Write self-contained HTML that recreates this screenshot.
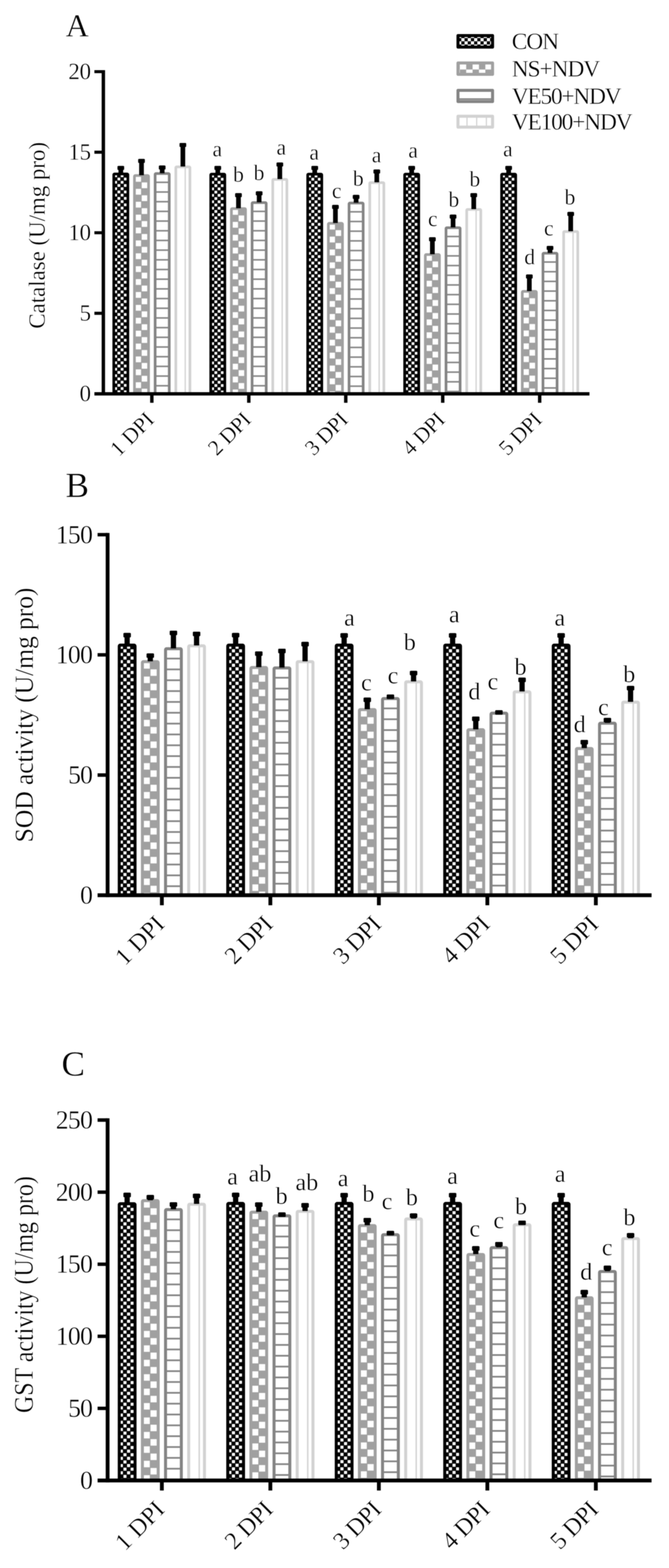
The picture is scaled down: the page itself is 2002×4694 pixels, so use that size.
<!DOCTYPE html>
<html lang="en"><head><meta charset="utf-8"><title>Antioxidant enzyme activity: Catalase, SOD and GST</title>
<style>html,body{margin:0;padding:0;background:#fff}body{width:2002px;height:4694px}svg{display:block;filter:blur(1.1px)}text{font-family:'Liberation Serif', serif;fill:#000;stroke:#fff;stroke-width:0.9px;paint-order:fill stroke}</style>
</head><body>
<svg width="2002" height="4694" viewBox="0 0 2002 4694">
<defs>
<pattern id="p1A" patternUnits="userSpaceOnUse" x="4.8" y="4.8" width="19.3" height="19.3"><rect width="19.3" height="19.3" fill="#000000"/><rect x="0.68" y="0.68" width="8.3" height="8.3" fill="#fff"/><rect x="10.33" y="10.33" width="8.3" height="8.3" fill="#fff"/></pattern>
<pattern id="p2A" patternUnits="userSpaceOnUse" x="5.4" y="4.3" width="38.6" height="38.6"><rect width="38.6" height="38.6" fill="#a0a0a0"/><rect x="0.96" y="0.96" width="17.37" height="17.37" fill="#fff"/><rect x="20.27" y="20.27" width="17.37" height="17.37" fill="#fff"/></pattern>
<pattern id="p3A" patternUnits="userSpaceOnUse" x="0" y="15.8" width="29" height="29"><rect width="29" height="29" fill="#fff"/><rect x="0" y="12.2" width="29" height="4.6" fill="#848484"/></pattern>
<pattern id="p4A" patternUnits="userSpaceOnUse" x="17.7" y="0" width="29" height="29"><rect width="29" height="29" fill="#fff"/><rect x="12.6" y="0" width="3.8" height="29" fill="#d2d2d2"/></pattern>
<pattern id="p1B" patternUnits="userSpaceOnUse" x="5.37" y="5.37" width="21.6" height="21.6"><rect width="21.6" height="21.6" fill="#000000"/><rect x="0.76" y="0.76" width="9.29" height="9.29" fill="#fff"/><rect x="11.55" y="11.55" width="9.29" height="9.29" fill="#fff"/></pattern>
<pattern id="p2B" patternUnits="userSpaceOnUse" x="6.04" y="4.81" width="43.19" height="43.19"><rect width="43.19" height="43.19" fill="#a0a0a0"/><rect x="1.08" y="1.08" width="19.44" height="19.44" fill="#fff"/><rect x="22.68" y="22.68" width="19.44" height="19.44" fill="#fff"/></pattern>
<pattern id="p3B" patternUnits="userSpaceOnUse" x="0" y="17.68" width="32.45" height="32.45"><rect width="32.45" height="32.45" fill="#fff"/><rect x="0" y="13.65" width="32.45" height="5.15" fill="#848484"/></pattern>
<pattern id="p4B" patternUnits="userSpaceOnUse" x="19.81" y="0" width="32.45" height="32.45"><rect width="32.45" height="32.45" fill="#fff"/><rect x="14.1" y="0" width="4.25" height="32.45" fill="#d2d2d2"/></pattern>
<pattern id="p1C" patternUnits="userSpaceOnUse" x="5.37" y="5.37" width="21.6" height="21.6"><rect width="21.6" height="21.6" fill="#000000"/><rect x="0.76" y="0.76" width="9.29" height="9.29" fill="#fff"/><rect x="11.55" y="11.55" width="9.29" height="9.29" fill="#fff"/></pattern>
<pattern id="p2C" patternUnits="userSpaceOnUse" x="6.04" y="4.81" width="43.19" height="43.19"><rect width="43.19" height="43.19" fill="#a0a0a0"/><rect x="1.08" y="1.08" width="19.44" height="19.44" fill="#fff"/><rect x="22.68" y="22.68" width="19.44" height="19.44" fill="#fff"/></pattern>
<pattern id="p3C" patternUnits="userSpaceOnUse" x="0" y="17.68" width="32.45" height="32.45"><rect width="32.45" height="32.45" fill="#fff"/><rect x="0" y="13.65" width="32.45" height="5.15" fill="#848484"/></pattern>
<pattern id="p4C" patternUnits="userSpaceOnUse" x="19.81" y="0" width="32.45" height="32.45"><rect width="32.45" height="32.45" fill="#fff"/><rect x="14.1" y="0" width="4.25" height="32.45" fill="#d2d2d2"/></pattern>
<pattern id="l1" patternUnits="userSpaceOnUse" x="5" y="2.5" width="19.1" height="19.1"><rect width="19.1" height="19.1" fill="#000000"/><rect width="9.55" height="9.55" fill="#fff"/><rect x="9.55" y="9.55" width="9.55" height="9.55" fill="#fff"/></pattern>
<pattern id="l2" patternUnits="userSpaceOnUse" x="10" y="5" width="38.2" height="38.2"><rect width="38.2" height="38.2" fill="#a0a0a0"/><rect width="19.1" height="19.1" fill="#fff"/><rect x="19.1" y="19.1" width="19.1" height="19.1" fill="#fff"/></pattern>
<pattern id="l3" patternUnits="userSpaceOnUse" x="0" y="16" width="29" height="29"><rect width="29" height="29" fill="#fff"/><rect y="12.2" width="29" height="4.6" fill="#848484"/></pattern>
<pattern id="l4" patternUnits="userSpaceOnUse" x="17" y="0" width="29" height="29"><rect width="29" height="29" fill="#fff"/><rect x="12.8" width="3.4" height="29" fill="#d2d2d2"/></pattern>
</defs>
<rect width="2002" height="4694" fill="#fff"/>
<g id="chartA">
<g stroke-width="8" stroke-linejoin="round">
<g transform="translate(336.45 516.7)"><rect x="4" y="4" width="42.2" height="658.3" rx="2.5" fill="url(#p1A)" stroke="#000000"/></g>
<g transform="translate(398.35 521.5)"><rect x="4" y="4" width="42.2" height="653.5" rx="2.5" fill="url(#p2A)" stroke="#a0a0a0"/></g>
<g transform="translate(460.25 515.5)"><rect x="4" y="4" width="42.2" height="659.5" rx="2.5" fill="url(#p3A)" stroke="#848484"/></g>
<g transform="translate(522.15 495.5)"><rect x="4" y="4" width="42.2" height="679.5" rx="2.5" fill="url(#p4A)" stroke="#d2d2d2"/></g>
<g transform="translate(626.6 517.2)"><rect x="4" y="4" width="42.2" height="657.8" rx="2.5" fill="url(#p1A)" stroke="#000000"/></g>
<g transform="translate(688.5 620.4)"><rect x="4" y="4" width="42.2" height="554.6" rx="2.5" fill="url(#p2A)" stroke="#a0a0a0"/></g>
<g transform="translate(750.4 602.5)"><rect x="4" y="4" width="42.2" height="572.5" rx="2.5" fill="url(#p3A)" stroke="#848484"/></g>
<g transform="translate(812.3 533)"><rect x="4" y="4" width="42.2" height="642" rx="2.5" fill="url(#p4A)" stroke="#d2d2d2"/></g>
<g transform="translate(916.75 517.2)"><rect x="4" y="4" width="42.2" height="657.8" rx="2.5" fill="url(#p1A)" stroke="#000000"/></g>
<g transform="translate(978.65 664.5)"><rect x="4" y="4" width="42.2" height="510.5" rx="2.5" fill="url(#p2A)" stroke="#a0a0a0"/></g>
<g transform="translate(1040.55 603.8)"><rect x="4" y="4" width="42.2" height="571.2" rx="2.5" fill="url(#p3A)" stroke="#848484"/></g>
<g transform="translate(1102.45 542.7)"><rect x="4" y="4" width="42.2" height="632.3" rx="2.5" fill="url(#p4A)" stroke="#d2d2d2"/></g>
<g transform="translate(1206.9 517.2)"><rect x="4" y="4" width="42.2" height="657.8" rx="2.5" fill="url(#p1A)" stroke="#000000"/></g>
<g transform="translate(1268.8 758)"><rect x="4" y="4" width="42.2" height="417" rx="2.5" fill="url(#p2A)" stroke="#a0a0a0"/></g>
<g transform="translate(1330.7 677.7)"><rect x="4" y="4" width="42.2" height="497.3" rx="2.5" fill="url(#p3A)" stroke="#848484"/></g>
<g transform="translate(1392.6 623)"><rect x="4" y="4" width="42.2" height="552" rx="2.5" fill="url(#p4A)" stroke="#d2d2d2"/></g>
<g transform="translate(1497.05 517.2)"><rect x="4" y="4" width="42.2" height="657.8" rx="2.5" fill="url(#p1A)" stroke="#000000"/></g>
<g transform="translate(1558.95 868.3)"><rect x="4" y="4" width="42.2" height="306.7" rx="2.5" fill="url(#p2A)" stroke="#a0a0a0"/></g>
<g transform="translate(1620.85 754.1)"><rect x="4" y="4" width="42.2" height="420.9" rx="2.5" fill="url(#p3A)" stroke="#848484"/></g>
<g transform="translate(1682.75 689.2)"><rect x="4" y="4" width="42.2" height="485.8" rx="2.5" fill="url(#p4A)" stroke="#d2d2d2"/></g>
</g>
<g fill="#000">
<rect x="354.55" y="496.8" width="14" height="22.9"/><rect x="351.55" y="496.8" width="20" height="12" rx="2.5"/>
<rect x="416.45" y="475.8" width="14" height="48.7"/><rect x="413.45" y="475.8" width="20" height="12" rx="2.5"/>
<rect x="478.35" y="495.5" width="14" height="23"/><rect x="475.35" y="495.5" width="20" height="12" rx="2.5"/>
<rect x="540.25" y="428" width="14" height="70.5"/><rect x="537.25" y="428" width="20" height="12" rx="2.5"/>
<rect x="644.7" y="496.8" width="14" height="23.4"/><rect x="641.7" y="496.8" width="20" height="12" rx="2.5"/>
<rect x="706.6" y="578.3" width="14" height="45.1"/><rect x="703.6" y="578.3" width="20" height="12" rx="2.5"/>
<rect x="768.5" y="572.7" width="14" height="32.8"/><rect x="765.5" y="572.7" width="20" height="12" rx="2.5"/>
<rect x="830.4" y="486.6" width="14" height="49.4"/><rect x="827.4" y="486.6" width="20" height="12" rx="2.5"/>
<rect x="934.85" y="496.8" width="14" height="23.4"/><rect x="931.85" y="496.8" width="20" height="12" rx="2.5"/>
<rect x="996.75" y="613.5" width="14" height="54"/><rect x="993.75" y="613.5" width="20" height="12" rx="2.5"/>
<rect x="1058.65" y="583.4" width="14" height="23.4"/><rect x="1055.65" y="583.4" width="20" height="12" rx="2.5"/>
<rect x="1120.55" y="507.5" width="14" height="38.2"/><rect x="1117.55" y="507.5" width="20" height="12" rx="2.5"/>
<rect x="1225" y="496.8" width="14" height="23.4"/><rect x="1222" y="496.8" width="20" height="12" rx="2.5"/>
<rect x="1286.9" y="710.3" width="14" height="50.7"/><rect x="1283.9" y="710.3" width="20" height="12" rx="2.5"/>
<rect x="1348.8" y="642.5" width="14" height="38.2"/><rect x="1345.8" y="642.5" width="20" height="12" rx="2.5"/>
<rect x="1410.7" y="578.3" width="14" height="47.7"/><rect x="1407.7" y="578.3" width="20" height="12" rx="2.5"/>
<rect x="1515.15" y="496.8" width="14" height="23.4"/><rect x="1512.15" y="496.8" width="20" height="12" rx="2.5"/>
<rect x="1577.05" y="821.7" width="14" height="49.6"/><rect x="1574.05" y="821.7" width="20" height="12" rx="2.5"/>
<rect x="1638.95" y="736.3" width="14" height="20.8"/><rect x="1635.95" y="736.3" width="20" height="12" rx="2.5"/>
<rect x="1700.85" y="634.4" width="14" height="57.8"/><rect x="1697.85" y="634.4" width="20" height="12" rx="2.5"/>
</g>
<g stroke="#000" stroke-width="10.2" fill="none">
<path d="M309.3 209.9V1184.1"/>
<path d="M282.5 1179H1764"/>
<path stroke-width="9.2" d="M282.5 937.88H309.3M282.5 696.75H309.3M282.5 455.62H309.3M282.5 214.5H309.3"/>
<path d="M454.4 1179V1205.8M744.55 1179V1205.8M1034.7 1179V1205.8M1324.85 1179V1205.8M1615 1179V1205.8"/>
</g>
<g font-size="69" text-anchor="end">
<text x="272.5" y="1201.2" textLength="34">0</text>
<text x="272.5" y="960.08" textLength="34">5</text>
<text x="272.5" y="718.95" textLength="68">10</text>
<text x="272.5" y="477.82" textLength="68">15</text>
<text x="272.5" y="236.7" textLength="68">20</text>
</g>
<g font-size="65.5" text-anchor="end">
<text transform="translate(465 1260) rotate(-45)" textLength="155">1 DPI</text>
<text transform="translate(755.15 1260) rotate(-45)" textLength="151">2 DPI</text>
<text transform="translate(1045.3 1260) rotate(-45)" textLength="151">3 DPI</text>
<text transform="translate(1335.45 1260) rotate(-45)" textLength="151">4 DPI</text>
<text transform="translate(1625.6 1260) rotate(-45)" textLength="151">5 DPI</text>
</g>
<text font-size="69" text-anchor="middle" transform="translate(134 704.5) rotate(-90)" textLength="559" lengthAdjust="spacing">Catalase (U/mg pro)</text>
<text font-size="96" x="196.5" y="108.7">A</text>
<g font-size="64.5" text-anchor="middle">
<text x="650.2" y="467.7">a</text>
<text x="713.7" y="544.2">b</text>
<text x="775" y="539.1">b</text>
<text x="841.8" y="462.6">a</text>
<text x="940.4" y="477.9">a</text>
<text x="1007.5" y="592.6">c</text>
<text x="1072" y="555.6">b</text>
<text x="1126.7" y="485.6">a</text>
<text x="1236.2" y="471.5">a</text>
<text x="1295.1" y="676.6">c</text>
<text x="1358" y="619.2">b</text>
<text x="1420.8" y="558.2">b</text>
<text x="1519.8" y="467.7">a</text>
<text x="1585.2" y="791.3">d</text>
<text x="1642.4" y="704.7">c</text>
<text x="1705.7" y="611.7">b</text>
</g>
</g>
<g id="chartB">
<g stroke-width="8.95" stroke-linejoin="round">
<g transform="translate(352.38 1926.8)"><rect x="4.48" y="4.48" width="47.22" height="748.72" rx="2.8" fill="url(#p1B)" stroke="#000000"/></g>
<g transform="translate(421.65 1976.3)"><rect x="4.48" y="4.48" width="47.22" height="699.22" rx="2.8" fill="url(#p2B)" stroke="#a0a0a0"/></g>
<g transform="translate(490.91 1937.6)"><rect x="4.48" y="4.48" width="47.22" height="737.92" rx="2.8" fill="url(#p3B)" stroke="#848484"/></g>
<g transform="translate(560.18 1928.8)"><rect x="4.48" y="4.48" width="47.22" height="746.72" rx="2.8" fill="url(#p4B)" stroke="#d2d2d2"/></g>
<g transform="translate(677.06 1926.8)"><rect x="4.48" y="4.48" width="47.22" height="748.72" rx="2.8" fill="url(#p1B)" stroke="#000000"/></g>
<g transform="translate(746.32 1993.8)"><rect x="4.48" y="4.48" width="47.22" height="681.72" rx="2.8" fill="url(#p2B)" stroke="#a0a0a0"/></g>
<g transform="translate(815.59 1995)"><rect x="4.48" y="4.48" width="47.22" height="680.52" rx="2.8" fill="url(#p3B)" stroke="#848484"/></g>
<g transform="translate(884.86 1976.3)"><rect x="4.48" y="4.48" width="47.22" height="699.22" rx="2.8" fill="url(#p4B)" stroke="#d2d2d2"/></g>
<g transform="translate(1001.74 1926.7)"><rect x="4.48" y="4.48" width="47.22" height="748.82" rx="2.8" fill="url(#p1B)" stroke="#000000"/></g>
<g transform="translate(1071 2119.7)"><rect x="4.48" y="4.48" width="47.22" height="555.82" rx="2.8" fill="url(#p2B)" stroke="#a0a0a0"/></g>
<g transform="translate(1140.27 2086.8)"><rect x="4.48" y="4.48" width="47.22" height="588.72" rx="2.8" fill="url(#p3B)" stroke="#848484"/></g>
<g transform="translate(1209.53 2036.5)"><rect x="4.48" y="4.48" width="47.22" height="639.02" rx="2.8" fill="url(#p4B)" stroke="#d2d2d2"/></g>
<g transform="translate(1326.41 1926.7)"><rect x="4.48" y="4.48" width="47.22" height="748.82" rx="2.8" fill="url(#p1B)" stroke="#000000"/></g>
<g transform="translate(1395.68 2180)"><rect x="4.48" y="4.48" width="47.22" height="495.52" rx="2.8" fill="url(#p2B)" stroke="#a0a0a0"/></g>
<g transform="translate(1464.95 2130.5)"><rect x="4.48" y="4.48" width="47.22" height="545.02" rx="2.8" fill="url(#p3B)" stroke="#848484"/></g>
<g transform="translate(1534.21 2066.5)"><rect x="4.48" y="4.48" width="47.22" height="609.02" rx="2.8" fill="url(#p4B)" stroke="#d2d2d2"/></g>
<g transform="translate(1651.09 1926.7)"><rect x="4.48" y="4.48" width="47.22" height="748.82" rx="2.8" fill="url(#p1B)" stroke="#000000"/></g>
<g transform="translate(1720.36 2236.2)"><rect x="4.48" y="4.48" width="47.22" height="439.32" rx="2.8" fill="url(#p2B)" stroke="#a0a0a0"/></g>
<g transform="translate(1789.62 2160.5)"><rect x="4.48" y="4.48" width="47.22" height="515.02" rx="2.8" fill="url(#p3B)" stroke="#848484"/></g>
<g transform="translate(1858.89 2097.6)"><rect x="4.48" y="4.48" width="47.22" height="577.92" rx="2.8" fill="url(#p4B)" stroke="#d2d2d2"/></g>
</g>
<g fill="#000">
<rect x="372.63" y="1894.7" width="15.67" height="35.46"/><rect x="369.28" y="1894.7" width="22.38" height="13.43" rx="2.8"/>
<rect x="441.9" y="1955.9" width="15.67" height="23.76"/><rect x="438.54" y="1955.9" width="22.38" height="13.43" rx="2.8"/>
<rect x="511.17" y="1888" width="15.67" height="52.96"/><rect x="507.81" y="1888" width="22.38" height="13.43" rx="2.8"/>
<rect x="580.43" y="1891" width="15.67" height="41.16"/><rect x="577.08" y="1891" width="22.38" height="13.43" rx="2.8"/>
<rect x="697.31" y="1894.7" width="15.67" height="35.46"/><rect x="693.96" y="1894.7" width="22.38" height="13.43" rx="2.8"/>
<rect x="766.58" y="1950" width="15.67" height="47.16"/><rect x="763.22" y="1950" width="22.38" height="13.43" rx="2.8"/>
<rect x="835.84" y="1942" width="15.67" height="56.36"/><rect x="832.49" y="1942" width="22.38" height="13.43" rx="2.8"/>
<rect x="905.11" y="1921.5" width="15.67" height="58.16"/><rect x="901.75" y="1921.5" width="22.38" height="13.43" rx="2.8"/>
<rect x="1021.99" y="1895.5" width="15.67" height="34.56"/><rect x="1018.63" y="1895.5" width="22.38" height="13.43" rx="2.8"/>
<rect x="1091.26" y="2088.3" width="15.67" height="34.76"/><rect x="1087.9" y="2088.3" width="22.38" height="13.43" rx="2.8"/>
<rect x="1160.52" y="2079" width="15.67" height="11.16"/><rect x="1157.17" y="2079" width="22.38" height="13.43" rx="2.8"/>
<rect x="1229.79" y="2008.2" width="15.67" height="31.66"/><rect x="1226.43" y="2008.2" width="22.38" height="13.43" rx="2.8"/>
<rect x="1346.67" y="1895.5" width="15.67" height="34.56"/><rect x="1343.31" y="1895.5" width="22.38" height="13.43" rx="2.8"/>
<rect x="1415.93" y="2145" width="15.67" height="38.36"/><rect x="1412.58" y="2145" width="22.38" height="13.43" rx="2.8"/>
<rect x="1485.2" y="2126" width="15.67" height="7.86"/><rect x="1481.84" y="2126" width="22.38" height="13.43" rx="2.8"/>
<rect x="1554.47" y="2028.6" width="15.67" height="41.26"/><rect x="1551.11" y="2028.6" width="22.38" height="13.43" rx="2.8"/>
<rect x="1671.35" y="1895.5" width="15.67" height="34.56"/><rect x="1667.99" y="1895.5" width="22.38" height="13.43" rx="2.8"/>
<rect x="1740.61" y="2215" width="15.67" height="24.56"/><rect x="1737.26" y="2215" width="22.38" height="13.43" rx="2.8"/>
<rect x="1809.88" y="2148.9" width="15.67" height="14.96"/><rect x="1806.52" y="2148.9" width="22.38" height="13.43" rx="2.8"/>
<rect x="1879.14" y="2053.3" width="15.67" height="47.66"/><rect x="1875.79" y="2053.3" width="22.38" height="13.43" rx="2.8"/>
</g>
<g stroke="#000" stroke-width="11.41" fill="none">
<path d="M322 1595.55V2685.71"/>
<path d="M292.01 2680H1949.81"/>
<path stroke-width="10.29" d="M292.01 2320.23H322M292.01 1960.47H322M292.01 1600.7H322"/>
<path d="M484.37 2680V2709.99M809.04 2680V2709.99M1133.72 2680V2709.99M1458.4 2680V2709.99M1783.08 2680V2709.99"/>
</g>
<g font-size="77.21" text-anchor="end">
<text x="278" y="2704.84" textLength="37.09">0</text>
<text x="278" y="2345.08" textLength="74.19">50</text>
<text x="278" y="1985.31" textLength="111.28">100</text>
<text x="278" y="1625.54" textLength="111.28">150</text>
</g>
<g font-size="73.29" text-anchor="end">
<text transform="translate(496.23 2770.64) rotate(-45)" textLength="173.44">1 DPI</text>
<text transform="translate(820.91 2770.64) rotate(-45)" textLength="168.97">2 DPI</text>
<text transform="translate(1145.58 2770.64) rotate(-45)" textLength="168.97">3 DPI</text>
<text transform="translate(1470.26 2770.64) rotate(-45)" textLength="168.97">4 DPI</text>
<text transform="translate(1794.94 2770.64) rotate(-45)" textLength="168.97">5 DPI</text>
</g>
<text font-size="77.21" text-anchor="middle" transform="translate(98 2140.5) rotate(-90)" textLength="763" lengthAdjust="spacing">SOD activity (U/mg pro)</text>
<text font-size="105.5" x="196" y="1487.7">B</text>
<g font-size="72.18" text-anchor="middle">
<text x="1045.7" y="1873.02">a</text>
<text x="1096.6" y="2066.72">c</text>
<text x="1176" y="2046.22">c</text>
<text x="1226.2" y="1945.82">b</text>
<text x="1359.4" y="1862.82">a</text>
<text x="1419.6" y="2094.22">d</text>
<text x="1475" y="2063.72">c</text>
<text x="1557.9" y="2020.12">b</text>
<text x="1675.3" y="1873.02">a</text>
<text x="1734.7" y="2191.92">d</text>
<text x="1805.7" y="2140.92">c</text>
<text x="1883" y="2041.92">b</text>
</g>
</g>
<g id="chartC">
<g stroke-width="8.95" stroke-linejoin="round">
<g transform="translate(352.38 3599)"><rect x="4.48" y="4.48" width="47.22" height="828.52" rx="2.8" fill="url(#p1C)" stroke="#000000"/></g>
<g transform="translate(421.65 3589.7)"><rect x="4.48" y="4.48" width="47.22" height="837.82" rx="2.8" fill="url(#p2C)" stroke="#a0a0a0"/></g>
<g transform="translate(490.91 3616.5)"><rect x="4.48" y="4.48" width="47.22" height="811.02" rx="2.8" fill="url(#p3C)" stroke="#848484"/></g>
<g transform="translate(560.18 3600.5)"><rect x="4.48" y="4.48" width="47.22" height="827.02" rx="2.8" fill="url(#p4C)" stroke="#d2d2d2"/></g>
<g transform="translate(677.06 3598)"><rect x="4.48" y="4.48" width="47.22" height="829.52" rx="2.8" fill="url(#p1C)" stroke="#000000"/></g>
<g transform="translate(746.32 3624.2)"><rect x="4.48" y="4.48" width="47.22" height="803.32" rx="2.8" fill="url(#p2C)" stroke="#a0a0a0"/></g>
<g transform="translate(815.59 3635.3)"><rect x="4.48" y="4.48" width="47.22" height="792.22" rx="2.8" fill="url(#p3C)" stroke="#848484"/></g>
<g transform="translate(884.86 3621.9)"><rect x="4.48" y="4.48" width="47.22" height="805.62" rx="2.8" fill="url(#p4C)" stroke="#d2d2d2"/></g>
<g transform="translate(1001.74 3598)"><rect x="4.48" y="4.48" width="47.22" height="829.52" rx="2.8" fill="url(#p1C)" stroke="#000000"/></g>
<g transform="translate(1071 3664.4)"><rect x="4.48" y="4.48" width="47.22" height="763.12" rx="2.8" fill="url(#p2C)" stroke="#a0a0a0"/></g>
<g transform="translate(1140.27 3691.8)"><rect x="4.48" y="4.48" width="47.22" height="735.72" rx="2.8" fill="url(#p3C)" stroke="#848484"/></g>
<g transform="translate(1209.53 3644.6)"><rect x="4.48" y="4.48" width="47.22" height="782.92" rx="2.8" fill="url(#p4C)" stroke="#d2d2d2"/></g>
<g transform="translate(1326.41 3598)"><rect x="4.48" y="4.48" width="47.22" height="829.52" rx="2.8" fill="url(#p1C)" stroke="#000000"/></g>
<g transform="translate(1395.68 3750.9)"><rect x="4.48" y="4.48" width="47.22" height="676.62" rx="2.8" fill="url(#p2C)" stroke="#a0a0a0"/></g>
<g transform="translate(1464.95 3730.5)"><rect x="4.48" y="4.48" width="47.22" height="697.02" rx="2.8" fill="url(#p3C)" stroke="#848484"/></g>
<g transform="translate(1534.21 3662.1)"><rect x="4.48" y="4.48" width="47.22" height="765.42" rx="2.8" fill="url(#p4C)" stroke="#d2d2d2"/></g>
<g transform="translate(1651.09 3598)"><rect x="4.48" y="4.48" width="47.22" height="829.52" rx="2.8" fill="url(#p1C)" stroke="#000000"/></g>
<g transform="translate(1720.36 3880.5)"><rect x="4.48" y="4.48" width="47.22" height="547.02" rx="2.8" fill="url(#p2C)" stroke="#a0a0a0"/></g>
<g transform="translate(1789.62 3801.9)"><rect x="4.48" y="4.48" width="47.22" height="625.62" rx="2.8" fill="url(#p3C)" stroke="#848484"/></g>
<g transform="translate(1858.89 3703.4)"><rect x="4.48" y="4.48" width="47.22" height="724.12" rx="2.8" fill="url(#p4C)" stroke="#d2d2d2"/></g>
</g>
<g fill="#000">
<rect x="372.63" y="3570.5" width="15.67" height="31.86"/><rect x="369.28" y="3570.5" width="22.38" height="13.43" rx="2.8"/>
<rect x="441.9" y="3577.2" width="15.67" height="15.86"/><rect x="438.54" y="3577.2" width="22.38" height="13.43" rx="2.8"/>
<rect x="511.17" y="3599" width="15.67" height="20.86"/><rect x="507.81" y="3599" width="22.38" height="13.43" rx="2.8"/>
<rect x="580.43" y="3573.4" width="15.67" height="30.46"/><rect x="577.08" y="3573.4" width="22.38" height="13.43" rx="2.8"/>
<rect x="697.31" y="3570.4" width="15.67" height="30.96"/><rect x="693.96" y="3570.4" width="22.38" height="13.43" rx="2.8"/>
<rect x="766.58" y="3599.5" width="15.67" height="28.06"/><rect x="763.22" y="3599.5" width="22.38" height="13.43" rx="2.8"/>
<rect x="835.84" y="3629.5" width="15.67" height="9.16"/><rect x="832.49" y="3629.5" width="22.38" height="13.43" rx="2.8"/>
<rect x="905.11" y="3601.5" width="15.67" height="23.76"/><rect x="901.75" y="3601.5" width="22.38" height="13.43" rx="2.8"/>
<rect x="1021.99" y="3571.2" width="15.67" height="30.16"/><rect x="1018.63" y="3571.2" width="22.38" height="13.43" rx="2.8"/>
<rect x="1091.26" y="3646" width="15.67" height="21.76"/><rect x="1087.9" y="3646" width="22.38" height="13.43" rx="2.8"/>
<rect x="1160.52" y="3684.8" width="15.67" height="10.36"/><rect x="1157.17" y="3684.8" width="22.38" height="13.43" rx="2.8"/>
<rect x="1229.79" y="3632.4" width="15.67" height="15.56"/><rect x="1226.43" y="3632.4" width="22.38" height="13.43" rx="2.8"/>
<rect x="1346.67" y="3571.2" width="15.67" height="30.16"/><rect x="1343.31" y="3571.2" width="22.38" height="13.43" rx="2.8"/>
<rect x="1415.93" y="3730.5" width="15.67" height="23.76"/><rect x="1412.58" y="3730.5" width="22.38" height="13.43" rx="2.8"/>
<rect x="1485.2" y="3718" width="15.67" height="15.86"/><rect x="1481.84" y="3718" width="22.38" height="13.43" rx="2.8"/>
<rect x="1554.47" y="3654" width="15.67" height="11.46"/><rect x="1551.11" y="3654" width="22.38" height="13.43" rx="2.8"/>
<rect x="1671.35" y="3571.2" width="15.67" height="30.16"/><rect x="1667.99" y="3571.2" width="22.38" height="13.43" rx="2.8"/>
<rect x="1740.61" y="3861.6" width="15.67" height="22.26"/><rect x="1737.26" y="3861.6" width="22.38" height="13.43" rx="2.8"/>
<rect x="1809.88" y="3788.8" width="15.67" height="16.46"/><rect x="1806.52" y="3788.8" width="22.38" height="13.43" rx="2.8"/>
<rect x="1879.14" y="3691.2" width="15.67" height="15.56"/><rect x="1875.79" y="3691.2" width="22.38" height="13.43" rx="2.8"/>
</g>
<g stroke="#000" stroke-width="11.41" fill="none">
<path d="M322 3347.85V4437.71"/>
<path d="M292.01 4432H1949.81"/>
<path stroke-width="10.29" d="M292.01 4216.2H322M292.01 4000.4H322M292.01 3784.6H322M292.01 3568.8H322M292.01 3353H322"/>
<path d="M484.37 4432V4461.99M809.04 4432V4461.99M1133.72 4432V4461.99M1458.4 4432V4461.99M1783.08 4432V4461.99"/>
</g>
<g font-size="77.21" text-anchor="end">
<text x="278" y="4456.84" textLength="37.09">0</text>
<text x="278" y="4241.04" textLength="74.19">50</text>
<text x="278" y="4025.24" textLength="111.28">100</text>
<text x="278" y="3809.44" textLength="111.28">150</text>
<text x="278" y="3593.64" textLength="111.28">200</text>
<text x="278" y="3377.84" textLength="111.28">250</text>
</g>
<g font-size="73.29" text-anchor="end">
<text transform="translate(496.23 4522.64) rotate(-45)" textLength="173.44">1 DPI</text>
<text transform="translate(820.91 4522.64) rotate(-45)" textLength="168.97">2 DPI</text>
<text transform="translate(1145.58 4522.64) rotate(-45)" textLength="168.97">3 DPI</text>
<text transform="translate(1470.26 4522.64) rotate(-45)" textLength="168.97">4 DPI</text>
<text transform="translate(1794.94 4522.64) rotate(-45)" textLength="168.97">5 DPI</text>
</g>
<text font-size="81" text-anchor="middle" transform="translate(98 3875.5) rotate(-90)" textLength="709" lengthAdjust="spacingAndGlyphs">GST activity (U/mg pro)</text>
<text font-size="105.5" x="184" y="3219.5">C</text>
<g font-size="72.18" text-anchor="middle">
<text x="695.9" y="3545.82">a</text>
<text x="778.1" y="3536.52">ab</text>
<text x="842.9" y="3604.02">b</text>
<text x="918.3" y="3562.72">ab</text>
<text x="1026.7" y="3551.02">a</text>
<text x="1102.5" y="3596.82">b</text>
<text x="1158.2" y="3620.12">c</text>
<text x="1232.5" y="3608.42">b</text>
<text x="1354.3" y="3543.52">a</text>
<text x="1420.7" y="3701.62">c</text>
<text x="1492.4" y="3676.82">c</text>
<text x="1559.3" y="3634.62">b</text>
<text x="1676.3" y="3537.62">a</text>
<text x="1754.3" y="3831.22">d</text>
<text x="1817" y="3758.42">c</text>
<text x="1883.5" y="3667.52">b</text>
</g>
</g>
<g id="legend">
<g transform="translate(1366 102)"><rect x="4.5" y="4.5" width="103.5" height="34.5" fill="url(#l1)" stroke="#000000" stroke-width="9" stroke-linejoin="round"/></g>
<g transform="translate(1366 184)"><rect x="4.5" y="4.5" width="103.5" height="34" fill="url(#l2)" stroke="#a0a0a0" stroke-width="9" stroke-linejoin="round"/></g>
<g transform="translate(1366 266)"><rect x="4.5" y="4.5" width="103.5" height="33.5" fill="url(#l3)" stroke="#848484" stroke-width="9" stroke-linejoin="round"/></g>
<g transform="translate(1366 343.5)"><rect x="4.5" y="4.5" width="103.5" height="32.5" fill="url(#l4)" stroke="#d2d2d2" stroke-width="9" stroke-linejoin="round"/></g>
<g font-size="70">
<text x="1531.5" y="147" textLength="141.5">CON</text>
<text x="1531.5" y="229.3" textLength="264.6">NS+NDV</text>
<text x="1531.5" y="311.3" textLength="328.6">VE50+NDV</text>
<text x="1531.5" y="388" textLength="361.5">VE100+NDV</text>
</g></g>
</svg></body></html>
